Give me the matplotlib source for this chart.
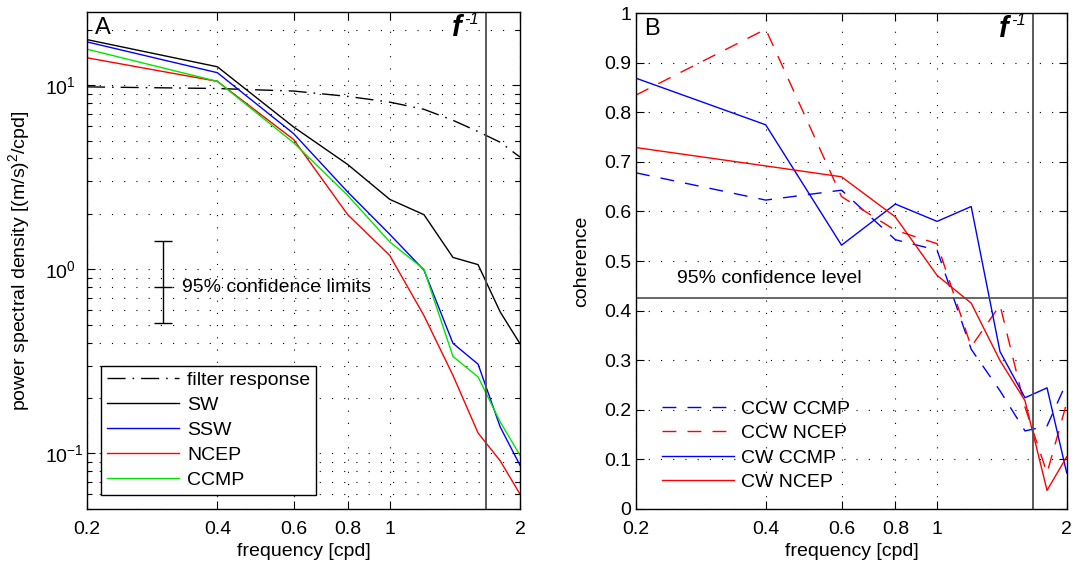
import matplotlib
matplotlib.use('Agg')
import matplotlib.pyplot as plt
from matplotlib.ticker import NullLocator, FixedLocator, NullFormatter

plt.rcParams['font.family'] = ['Liberation Sans', 'DejaVu Sans']
plt.rcParams['mathtext.fontset'] = 'custom'
plt.rcParams['mathtext.rm'] = 'Liberation Sans'
plt.rcParams['mathtext.it'] = 'Liberation Sans:italic'
plt.rcParams['font.size'] = 14

# frequencies [cpd]
freq = [0.2, 0.4, 0.6, 0.8, 1.0, 1.2, 1.4, 1.6, 1.8, 2.0]

# panel A: power spectral density
filter_resp = [9.8, 9.6, 9.3, 8.7, 8.1, 7.4, 6.45, 5.6, 4.9, 4.07]
psd_sw = [17.7, 12.6, 5.93, 3.71, 2.40, 1.98, 1.16, 1.06, 0.586, 0.394]
psd_ssw = [17.2, 11.7, 5.46, 2.63, 1.55, 0.99, 0.396, 0.305, 0.139, 0.086]
psd_ncep = [14.1, 10.5, 5.07, 1.98, 1.19, 0.56, 0.265, 0.129, 0.091, 0.060]
psd_ccmp = [15.7, 10.5, 4.87, 2.52, 1.41, 1.0, 0.336, 0.260, 0.148, 0.0975]

# 95% confidence limits bar
ci_x = 0.3
ci_mid = 0.8
ci_low = 0.51
ci_high = 1.43

# panel B: coherence
coh_ccw_ccmp = [0.678, 0.623, 0.643, 0.543, 0.522, 0.322, 0.238, 0.157, 0.167, 0.256]
coh_ccw_ncep = [0.835, 0.968, 0.630, 0.562, 0.535, 0.327, 0.411, 0.205, 0.072, 0.214]
coh_cw_ccmp = [0.869, 0.775, 0.532, 0.615, 0.580, 0.610, 0.317, 0.224, 0.244, 0.072]
coh_cw_ncep = [0.729, 0.692, 0.670, 0.589, 0.471, 0.415, 0.299, 0.218, 0.037, 0.105]
coh_level = 0.426

f_inertial = 1.673

xticks = [0.2, 0.4, 0.6, 0.8, 1, 2]
xticklabels = ['0.2', '0.4', '0.6', '0.8', '1', '2']
psd_ticks = [0.1, 1, 10]
psd_ticklabels = [r'$10^{-1}$', r'$10^{0}$', r'$10^{1}$']
coh_ticks = [0, 0.1, 0.2, 0.3, 0.4, 0.5, 0.6, 0.7, 0.8, 0.9, 1]
coh_ticklabels = ['0', '0.1', '0.2', '0.3', '0.4', '0.5', '0.6', '0.7', '0.8', '0.9', '1']

grid_style = dict(color='k', linewidth=0.8, linestyle=(0, (1, 10)))
green = '#00e600'

fig = plt.figure(figsize=(10.76, 5.67), dpi=100)


def style_axes(ax):
    ax.set_xlim(0.2, 2)
    ax.xaxis.set_major_locator(FixedLocator(xticks))
    ax.set_xticklabels(xticklabels)
    ax.xaxis.set_minor_locator(NullLocator())
    ax.tick_params(which='both', direction='in', top=True, right=True, width=0.8)
    ax.tick_params(which='major', length=6)
    ax.tick_params(which='minor', length=3.5)
    ax.tick_params(axis='x', pad=8.5)
    for s in ax.spines.values():
        s.set_linewidth(1.0)
    ax.set_xlabel('frequency [cpd]', labelpad=4)


# ---- panel A ----
ax1 = fig.add_axes([0.0809, 0.1028, 0.4024, 0.876])
ax1.set_xscale('log')
ax1.set_yscale('log')
style_axes(ax1)
ax1.set_ylim(0.05, 25)
ax1.set_yticks(psd_ticks, psd_ticklabels, ha='left')
ax1.tick_params(axis='y', pad=30)
ax1.yaxis.set_minor_formatter(NullFormatter())
ax1.grid(True, which='major', axis='x', **grid_style)
ax1.grid(True, which='both', axis='y', **grid_style)

ax1.plot(freq, filter_resp, color='k', lw=1.0, dashes=(13, 5, 1.2, 5), label='filter response')
ax1.plot(freq, psd_sw, color='k', lw=1.0, label='SW')
ax1.plot(freq, psd_ssw, color='b', lw=1.0, label='SSW')
ax1.plot(freq, psd_ncep, color='r', lw=1.0, label='NCEP')
ax1.plot(freq, psd_ccmp, color=green, lw=1.0, label='CCMP')
ax1.axvline(f_inertial, color='0.3', lw=1.3)

ax1.errorbar([ci_x], [ci_mid], yerr=[[ci_mid - ci_low], [ci_high - ci_mid]],
             fmt='_', color='k', markersize=13, capsize=6.5, elinewidth=1.0,
             capthick=1.0, markeredgewidth=1.0)
ax1.text(0.331, ci_mid, '95% confidence limits', va='center', ha='left', fontsize=14)

ax1.set_ylabel(r'power spectral density [(m/s)$^2$/cpd]')
ax1.yaxis.set_label_coords(-0.128, 0.5)
ax1.text(0.018, 0.99, 'A', transform=ax1.transAxes, fontsize=17, va='top', ha='left')
ax1.text(0.843, 0.968, 'f', transform=ax1.transAxes, fontsize=21, fontweight='bold',
         fontstyle='italic', va='center', ha='left')
ax1.text(0.872, 0.985, '-1', transform=ax1.transAxes, fontsize=12,
         fontstyle='italic', va='center', ha='left')

leg1 = ax1.legend(loc='lower left', bbox_to_anchor=(0.0316, 0.0276), fontsize=14,
                  handlelength=3.7, handletextpad=0.45, labelspacing=0.38,
                  borderpad=0.3, borderaxespad=0, fancybox=False, edgecolor='k',
                  framealpha=1)
leg1.get_frame().set_linewidth(1.0)

# ---- panel B ----
ax2 = fig.add_axes([0.5911, 0.1028, 0.4003, 0.8737])
ax2.set_xscale('log')
style_axes(ax2)
ax2.set_ylim(0, 1)
ax2.set_yticks(coh_ticks, coh_ticklabels)
ax2.grid(True, which='major', **grid_style)

ax2.plot(freq, coh_ccw_ccmp, color='b', lw=1.0, dashes=(10, 8), label='CCW CCMP')
ax2.plot(freq, coh_ccw_ncep, color='r', lw=1.0, dashes=(10, 8), label='CCW NCEP')
ax2.plot(freq, coh_cw_ccmp, color='b', lw=1.0, label='CW CCMP')
ax2.plot(freq, coh_cw_ncep, color='r', lw=1.0, label='CW NCEP')
ax2.axvline(f_inertial, color='0.3', lw=1.3)
ax2.axhline(coh_level, color='0.3', lw=1.2)
ax2.text(0.2485, 0.465, '95% confidence level', va='center', ha='left', fontsize=14)

ax2.set_ylabel('coherence')
ax2.yaxis.set_label_coords(-0.106, 0.5)
ax2.text(0.018, 0.99, 'B', transform=ax2.transAxes, fontsize=17, va='top', ha='left')
ax2.text(0.843, 0.968, 'f', transform=ax2.transAxes, fontsize=21, fontweight='bold',
         fontstyle='italic', va='center', ha='left')
ax2.text(0.872, 0.985, '-1', transform=ax2.transAxes, fontsize=12,
         fontstyle='italic', va='center', ha='left')

ax2.legend(loc='lower left', bbox_to_anchor=(0.0416, 0.02), fontsize=14, frameon=False,
           handlelength=3.7, handletextpad=0.4, labelspacing=0.35, borderaxespad=0)

fig.savefig('out.png', dpi=100)
